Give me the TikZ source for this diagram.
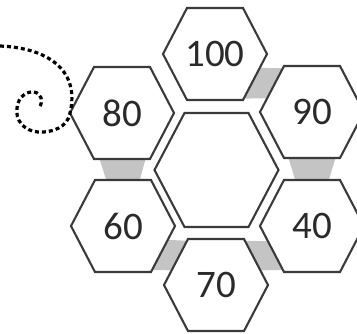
\documentclass[tikz,border=0pt]{standalone}
\usepackage{fontspec}
\setmainfont{Carlito}
\usetikzlibrary{calc,backgrounds}
\definecolor{hexgray}{HTML}{3A3A3A}
\definecolor{txtgray}{HTML}{2A2A2A}
\definecolor{bandgray}{HTML}{C4C4C4}
\tikzset{
  hexline/.style={draw=hexgray, line width=2.1pt, fill=white, line join=miter},
  numtext/.style={text=txtgray, font=\fontsize{39}{39}\selectfont, inner sep=0pt},
  band/.style={fill=bandgray, draw=none},
  curl/.style={draw=black, line width=3.2pt, dash pattern=on 4pt off 3pt},
}
\newcommand\hexa[7]{%
  \coordinate (#1-1) at ({#2+#4},#3);
  \coordinate (#1-2) at ({#2+#5},{#3+#6});
  \coordinate (#1-3) at ({#2-#5},{#3+#6});
  \coordinate (#1-4) at ({#2-#4},#3);
  \coordinate (#1-5) at ({#2-#5},{#3-#6});
  \coordinate (#1-6) at ({#2+#5},{#3-#6});
  \path[hexline] (#1-1)--(#1-2)--(#1-3)--(#1-4)--(#1-5)--(#1-6)--cycle;
  \node[numtext] (#1) at (#2,#3) {#7};
}
\begin{document}
\begin{tikzpicture}[x=1pt,y=-1pt]
\useasboundingbox (0,0) rectangle (357,333);
\hexa{hc}{216.5}{170}{62}{32}{57}{}
\hexa{h100}{215}{54}{52}{28}{46}{100}
\hexa{h90}{312}{112}{52}{28}{46}{90}
\hexa{h40}{312}{226}{52}{28}{46}{40}
\hexa{h70}{216}{285}{52}{28}{46}{70}
\hexa{h60}{123}{226}{52}{28}{46}{60}
\hexa{h80}{122}{113}{52}{28}{46}{80}
\begin{scope}[on background layer]
  \fill[band] ($(h100-1)!0.3!(h100-2)$) -- ($(h90-5)!0.05!(h90-4)$) -- ($(h90-5)!0.7!(h90-4)$) -- ($(h100-1)!0.97!(h100-2)$) -- cycle;
  \fill[band] ($(h90-3)!0.08!(h90-2)$) -- ($(h90-3)!0.92!(h90-2)$) -- ($(h40-5)!0.8!(h40-6)$) -- ($(h40-5)!0.2!(h40-6)$) -- cycle;
  \fill[band] ($(h70-6)!0.04!(h70-1)$) -- ($(h40-4)!0.33!(h40-3)$) -- ($(h40-4)!0.96!(h40-3)$) -- ($(h70-6)!0.68!(h70-1)$) -- cycle;
  \fill[band] ($(h60-1)!0.3!(h60-2)$) -- ($(h70-5)!0.04!(h70-4)$) -- ($(h70-5)!0.68!(h70-4)$) -- ($(h60-1)!0.96!(h60-2)$) -- cycle;
  \fill[band] ($(h80-3)!0.1!(h80-2)$) -- ($(h80-3)!0.92!(h80-2)$) -- ($(h60-5)!0.8!(h60-6)$) -- ($(h60-5)!0.2!(h60-6)$) -- cycle;
\end{scope}
\coordinate (tail) at (0,46);
\coordinate (curlend) at (39,108);
\draw[curl] (tail) .. controls (50,48) and (80,72) .. (h80-4)
  .. controls (68,127) and (52,133) .. (38,132)
  .. controls (24,131) and (15,120) .. (17,108)
  .. controls (18,96) and (28,91) .. (34,92)
  .. controls (41,93) and (44,101) .. (curlend);
\end{tikzpicture}
\end{document}
